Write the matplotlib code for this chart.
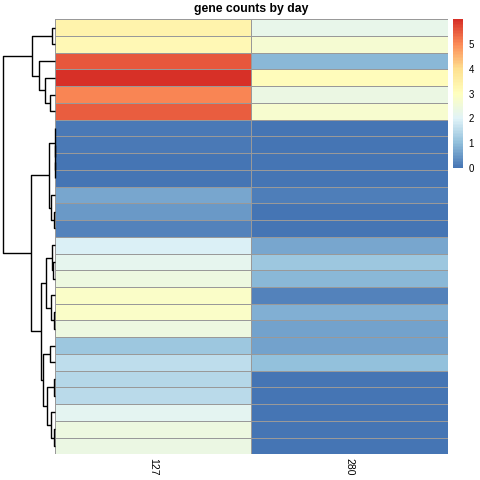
import matplotlib
matplotlib.use("Agg")
import matplotlib.pyplot as plt
import numpy as np
from matplotlib.colors import LinearSegmentedColormap

plt.rcParams["font.family"] = ["Liberation Sans", "DejaVu Sans"]

# Data -------

days = ["127", "280"]

# rows in displayed (dendrogram) order, top to bottom
counts_127 = [3.40, 3.20, 5.55, 5.98, 5.05, 5.50, 0.08, 0.06, 0.05, 0.05,
              0.66, 0.49, 0.20, 1.95, 2.17, 2.42, 2.84, 2.84, 2.45, 1.14,
              1.57, 1.45, 1.55, 2.10, 2.45, 2.35]
counts_280 = [2.26, 2.68, 0.95, 3.10, 2.36, 2.75, 0.05, 0.03, 0.00, 0.00,
              0.13, 0.02, 0.03, 0.67, 1.15, 0.95, 0.20, 0.81, 0.64, 0.64,
              1.03, 0.02, 0.03, 0.05, 0.02, 0.02]

# row tree, hclust style: negative = row (1-based), positive = earlier merge
merge_left = [-9, -8, -7, -12, -11, 3, -1, -5, -4, -3, 7, -15, -14,
              -18, -17, 13, -20, -22, -25, -24, 18, 17, 16, 6, 11]
merge_right = [-10, 1, 2, -13, 4, 5, -2, -6, 8, 9, 10, -16, 12,
               -19, 14, 15, -21, -23, -26, 19, 20, 21, 22, 23, 24]
merge_height = [0.02, 0.03, 0.04, 0.17, 0.51, 0.72, 0.42, 0.63, 1.23, 2.07,
                2.88, 0.25, 0.42, 0.12, 0.55, 1.14, 0.63, 0.09, 0.09, 0.51,
                1.05, 1.48, 1.78, 3.01, 6.64]

# pheatmap default palette
palette = ["#4575B4", "#91BFDB", "#E0F3F8", "#FFFFBF", "#FEE090", "#FC8D59", "#D73027"]
cmap = LinearSegmentedColormap.from_list("rdylbu", palette, N=100)


# Helper -------
W = H = 480.0


def px_axes(fig, left, top, width, height):
    return fig.add_axes([left / W, 1 - (top + height) / H, width / W, height / H])


mat = np.column_stack([counts_127, counts_280])
n_rows = mat.shape[0]
vmin, vmax = mat.min(), mat.max()

fig = plt.figure(figsize=(4.8, 4.8), dpi=100)

# Heatmap -------
ax = px_axes(fig, 55, 19.3, 392.5, 435)
mesh = ax.pcolormesh(np.arange(len(days) + 1), np.arange(n_rows + 1), mat,
                     cmap=cmap, vmin=vmin, vmax=vmax,
                     edgecolors="#999999", linewidth=0.55)
ax.set_xlim(0, len(days))
ax.set_ylim(n_rows, 0)
ax.set_xticks(np.arange(len(days)) + 0.5)
ax.set_xticklabels(days, rotation=270, fontsize=7.5)
ax.tick_params(axis="x", length=0, pad=3)
ax.set_yticks([])
for s in ax.spines.values():
    s.set_visible(False)

# Dendrogram -------
dax = px_axes(fig, 2.7, 19.3, 52.3, 435)
pos = {}


def node_pos(k):
    if k < 0:
        return 0.0, -k - 0.5
    return pos[k]


for i, (l, r, h) in enumerate(zip(merge_left, merge_right, merge_height), start=1):
    hl, yl = node_pos(l)
    hr, yr = node_pos(r)
    dax.plot([hl, h, h, hr], [yl, yl, yr, yr], color="black", lw=1.0,
             solid_capstyle="butt", clip_on=False)
    pos[i] = (h, (yl + yr) / 2)

dax.set_xlim(max(merge_height), 0)
dax.set_ylim(n_rows, 0)
dax.axis("off")

# Colorbar -------
cax = px_axes(fig, 452.7, 19.3, 10.3, 149)
cb = fig.colorbar(mesh, cax=cax, ticks=range(0, 6))
cb.outline.set_visible(False)
cax.tick_params(length=0, pad=4, labelsize=7)

# Title -------
fig.text(251 / W, 1 - 9 / H, "gene counts by day", ha="center", va="center",
         fontsize=8.8, fontweight="bold")

fig.savefig("out.png", dpi=100)
